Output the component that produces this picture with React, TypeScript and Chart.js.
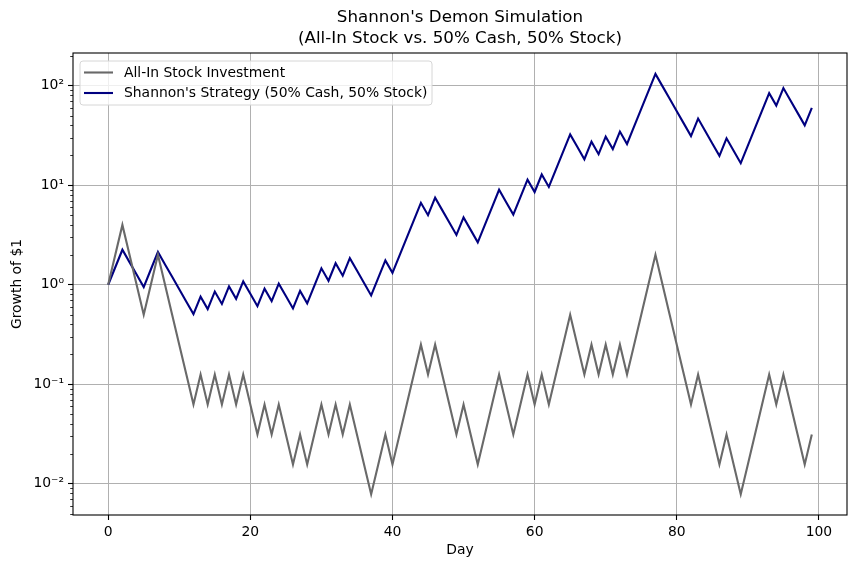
import React, { useEffect, useRef } from "react";
import { Chart, registerables } from "chart.js";

Chart.register(...registerables);

const TITLE_LINES = ["Shannon's Demon Simulation", "(All-In Stock vs. 50% Cash, 50% Stock)"];
const X_LABEL = "Day";
const Y_LABEL = "Growth of $1";
const SERIES_NAMES = ["All-In Stock Investment", "Shannon's Strategy (50% Cash, 50% Stock)"];

const DAYS = Array.from({ length: 100 }, (_, i) => i);
const X_TICKS = [0, 20, 40, 60, 80, 100];
const Y_TICKS = [0.01, 0.1, 1, 10, 100];
const Y_TICK_LABELS = ["10\u207B\u00B2", "10\u207B\u00B9", "10\u2070", "10\u00B9", "10\u00B2"];

// All-in stock value (powers of two)
const STOCK = [
  1, 2, 4, 2, 1, 0.5, 1, 2, 1, 0.5,
  0.25, 0.125, 0.0625, 0.125, 0.0625, 0.125, 0.0625, 0.125, 0.0625, 0.125,
  0.0625, 0.03125, 0.0625, 0.03125, 0.0625, 0.03125, 0.015625, 0.03125, 0.015625, 0.03125,
  0.0625, 0.03125, 0.0625, 0.03125, 0.0625, 0.03125, 0.015625, 0.0078125, 0.015625, 0.03125,
  0.015625, 0.03125, 0.0625, 0.125, 0.25, 0.125, 0.25, 0.125, 0.0625, 0.03125,
  0.0625, 0.03125, 0.015625, 0.03125, 0.0625, 0.125, 0.0625, 0.03125, 0.0625, 0.125,
  0.0625, 0.125, 0.0625, 0.125, 0.25, 0.5, 0.25, 0.125, 0.25, 0.125,
  0.25, 0.125, 0.25, 0.125, 0.25, 0.5, 1, 2, 1, 0.5,
  0.25, 0.125, 0.0625, 0.125, 0.0625, 0.03125, 0.015625, 0.03125, 0.015625, 0.0078125,
  0.015625, 0.03125, 0.0625, 0.125, 0.0625, 0.125, 0.0625, 0.03125, 0.015625, 0.03125,
];

// Shannon's strategy value
const SHANNON = [
  1, 1.5, 2.25, 1.688, 1.266, 0.949, 1.424, 2.136, 1.602, 1.201,
  0.901, 0.676, 0.507, 0.760, 0.570, 0.855, 0.641, 0.962, 0.722, 1.082,
  0.812, 0.609, 0.913, 0.685, 1.027, 0.771, 0.578, 0.867, 0.650, 0.975,
  1.463, 1.097, 1.646, 1.234, 1.852, 1.389, 1.041, 0.781, 1.172, 1.758,
  1.318, 1.977, 2.966, 4.449, 6.673, 5.005, 7.507, 5.630, 4.223, 3.167,
  4.751, 3.563, 2.672, 4.008, 6.013, 9.019, 6.764, 5.073, 7.610, 11.41,
  8.561, 12.84, 9.631, 14.45, 21.67, 32.50, 24.38, 18.28, 27.43, 20.57,
  30.85, 23.14, 34.71, 26.03, 39.05, 58.57, 87.86, 131.8, 98.84, 74.13,
  55.60, 41.70, 31.27, 46.91, 35.18, 26.39, 19.79, 29.69, 22.26, 16.70,
  25.05, 37.57, 56.36, 84.54, 63.40, 95.10, 71.33, 53.50, 40.12, 60.18,
];

const COLORS = ["#696969", "#000080"];
const FONT = '"DejaVu Sans", sans-serif';

const framePlugin = {
  id: "frame",
  afterDatasetsDraw(chart: any) {
    const { ctx, chartArea: a } = chart;
    ctx.save();
    // spines
    ctx.strokeStyle = "#000";
    ctx.lineWidth = 1.1;
    ctx.strokeRect(a.left, a.top, a.right - a.left, a.bottom - a.top);
    // minor ticks on y
    const ys = chart.scales.y;
    ctx.lineWidth = 0.8;
    for (let n = -3; n <= 2; n++) {
      for (let m = 2; m <= 9; m++) {
        const v = m * Math.pow(10, n);
        if (v < ys.min || v > ys.max) continue;
        const py = Math.round(ys.getPixelForValue(v)) + 0.5;
        ctx.beginPath();
        ctx.moveTo(a.left - 2.8, py);
        ctx.lineTo(a.left, py);
        ctx.stroke();
      }
    }
    // title
    ctx.fillStyle = "#000";
    ctx.font = `16.7px ${FONT}`;
    ctx.textAlign = "center";
    ctx.textBaseline = "middle";
    const cx = (a.left + a.right) / 2;
    ctx.fillText(TITLE_LINES[0], cx, 18);
    ctx.fillText(TITLE_LINES[1], cx, 39);
    // legend
    const lx = 80, ly = 61, lw = 352, lh = 44, r = 3;
    ctx.beginPath();
    ctx.moveTo(lx + r, ly);
    ctx.lineTo(lx + lw - r, ly);
    ctx.quadraticCurveTo(lx + lw, ly, lx + lw, ly + r);
    ctx.lineTo(lx + lw, ly + lh - r);
    ctx.quadraticCurveTo(lx + lw, ly + lh, lx + lw - r, ly + lh);
    ctx.lineTo(lx + r, ly + lh);
    ctx.quadraticCurveTo(lx, ly + lh, lx, ly + lh - r);
    ctx.lineTo(lx, ly + r);
    ctx.quadraticCurveTo(lx, ly, lx + r, ly);
    ctx.closePath();
    ctx.fillStyle = "rgba(255,255,255,0.8)";
    ctx.fill();
    ctx.strokeStyle = "#d6d6d6";
    ctx.lineWidth = 1;
    ctx.stroke();
    ctx.font = `13.9px ${FONT}`;
    ctx.textAlign = "left";
    chart.data.datasets.forEach((ds: any, i: number) => {
      const yy = 72.5 + i * 20.5;
      ctx.strokeStyle = ds.borderColor;
      ctx.lineWidth = 2.1;
      ctx.beginPath();
      ctx.moveTo(84, yy);
      ctx.lineTo(113, yy);
      ctx.stroke();
      ctx.fillStyle = "#000";
      ctx.fillText(ds.label, 124, yy + 0.5);
    });
    ctx.restore();
  },
};

export default function App() {
  const ref = useRef<HTMLCanvasElement>(null);
  useEffect(() => {
    document.body.style.margin = "0";
    const chart = new Chart(ref.current as HTMLCanvasElement, {
      type: "line",
      data: {
        datasets: [
          {
            label: SERIES_NAMES[0],
            data: STOCK.map((v, i) => ({ x: DAYS[i], y: v })),
            borderColor: COLORS[0],
            backgroundColor: COLORS[0],
            borderWidth: 2.1,
            pointRadius: 0,
            tension: 0,
          },
          {
            label: SERIES_NAMES[1],
            data: SHANNON.map((v, i) => ({ x: DAYS[i], y: v })),
            borderColor: COLORS[1],
            backgroundColor: COLORS[1],
            borderWidth: 2.1,
            pointRadius: 0,
            tension: 0,
          },
        ],
      },
      options: {
        animation: false,
        responsive: false,
        devicePixelRatio: 1,
        layout: { padding: { top: 53, right: 10, left: 0, bottom: 0 } },
        plugins: { legend: { display: false }, title: { display: false }, tooltip: { enabled: false } },
        scales: {
          x: {
            type: "linear",
            min: -4.95,
            max: 103.95,
            afterBuildTicks: (s: any) => {
              s.ticks = X_TICKS.map((v) => ({ value: v }));
            },
            afterFit: (s: any) => {
              s.height = 53;
            },
            border: { display: false },
            grid: { color: "#b0b0b0", lineWidth: 1, tickColor: "#000", tickLength: 5, tickWidth: 1.1 },
            ticks: {
              color: "#000",
              font: { family: FONT, size: 13.9 },
              padding: 4,
              maxRotation: 0,
              autoSkip: false,
              callback: (v: any) => String(v),
            },
            title: {
              display: true,
              text: X_LABEL,
              color: "#000",
              font: { family: FONT, size: 13.9 },
              padding: { top: 0, bottom: 9 },
            },
          },
          y: {
            type: "logarithmic",
            min: 0.00484,
            max: 214,
            afterBuildTicks: (s: any) => {
              s.ticks = Y_TICKS.map((v) => ({ value: v }));
            },
            afterFit: (s: any) => {
              s.width = 73;
            },
            border: { display: false },
            grid: { color: "#b0b0b0", lineWidth: 1, tickColor: "#000", tickLength: 5, tickWidth: 1.1 },
            ticks: {
              color: "#000",
              font: { family: FONT, size: 13.9 },
              padding: 4,
              autoSkip: false,
              callback: (v: any) => {
                const idx = Y_TICKS.findIndex((t) => Math.abs(t - v) / t < 1e-6);
                return idx >= 0 ? Y_TICK_LABELS[idx] : "";
              },
            },
            title: {
              display: true,
              text: Y_LABEL,
              color: "#000",
              font: { family: FONT, size: 13.9 },
              padding: { top: 9, bottom: 0 },
            },
          },
        },
      },
      plugins: [framePlugin],
    });
    return () => chart.destroy();
  }, []);
  return (
    <div style={{ width: 857, height: 568 }}>
      <canvas ref={ref} width={857} height={568} style={{ display: "block" }} />
    </div>
  );
}
